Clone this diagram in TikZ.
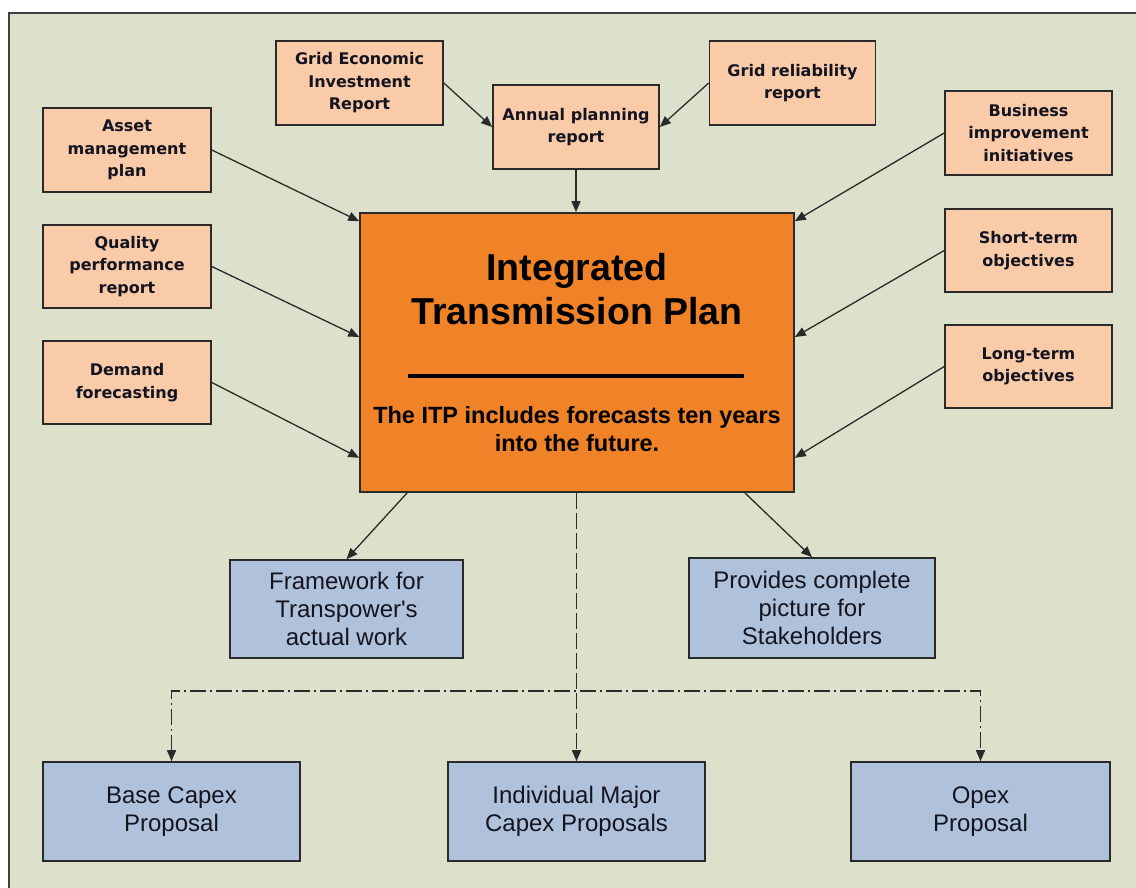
\documentclass[tikz,border=0pt]{standalone}
\usepackage{fontspec}
\usetikzlibrary{arrows.meta,calc}
\newfontfamily\boxfont{DejaVu Sans}
\newfontfamily\arialfont{Liberation Sans}
\definecolor{bgpanel}{HTML}{DDE1CC}
\definecolor{inputfill}{HTML}{F9CBA8}
\definecolor{planfill}{HTML}{F08227}
\definecolor{outfill}{HTML}{B0C2DB}
\definecolor{edgegray}{HTML}{2A2A2A}
\definecolor{inktext}{HTML}{141420}
\begin{document}
\begin{tikzpicture}[x=1pt,y=-1pt,
  basebox/.style={draw=edgegray, line width=1.6pt, rectangle, inner sep=0pt, align=center, text=inktext},
  inbox/.style={basebox, fill=inputfill, font=\boxfont\bfseries\fontsize{16}{22.5}\selectfont},
  outbox/.style={basebox, fill=outfill, font=\arialfont\fontsize{24}{28}\selectfont},
  planbox/.style={basebox, fill=planfill},
  plantitle/.style={anchor=base, inner sep=0pt, text=black, font=\arialfont\bfseries\fontsize{37.5}{44}\selectfont},
  plansub/.style={anchor=base, inner sep=0pt, text=black, font=\arialfont\bfseries\fontsize{23.5}{28}\selectfont},
  feed/.style={draw=edgegray, line width=1.3pt, -{Triangle[length=11pt,width=9pt]}},
  centredash/.style={draw=edgegray, line width=1.4pt, dash pattern=on 16pt off 4pt, -{Triangle[length=11pt,width=9pt]}},
  branchdash/.style={draw=edgegray, line width=1.4pt, dash pattern=on 16pt off 4pt on 2pt off 4pt, {Triangle[length=11pt,width=9pt]}-{Triangle[length=11pt,width=9pt]}}
]
\useasboundingbox (0,0) rectangle (1136,887);
\fill[white] (0,0) rectangle (1136,887);
% panel with its framing edge
\fill[bgpanel] (9,13) rectangle (1140,892);
\draw[line width=2pt, draw=black!75] (9,892) -- (9,13) -- (1140,13);

% inputs
\node[inbox, minimum width=167pt, minimum height=84pt] (gei) at (359.5,83) {Grid Economic\\Investment\\Report};
\node[inbox, minimum width=166pt, minimum height=84pt] (apr) at (576,127) {Annual planning\\report};
\node[inbox, minimum width=166pt, minimum height=84pt] (grr) at (792.5,83) {Grid reliability\\report};
\node[inbox, minimum width=168pt, minimum height=84pt] (amp) at (127,150) {Asset\\management\\plan};
\node[inbox, minimum width=168pt, minimum height=83pt] (qpr) at (127,266.5) {Quality\\performance\\report};
\node[inbox, minimum width=168pt, minimum height=83pt] (dfc) at (127,382.5) {Demand\\forecasting};
\node[inbox, minimum width=167pt, minimum height=84pt] (bii) at (1028.5,133) {Business\\improvement\\initiatives};
\node[inbox, minimum width=167pt, minimum height=83pt] (sto) at (1028.5,250.5) {Short-term\\objectives};
\node[inbox, minimum width=167pt, minimum height=83pt] (lto) at (1028.5,366.5) {Long-term\\objectives};

% central plan
\node[planbox, minimum width=434pt, minimum height=279pt] (itp) at (577,352.5) {};
\node[plantitle] (itpa) at (577,280) {Integrated};
\node[plantitle] (itpb) at (577,324) {Transmission Plan};
\node[inner sep=0pt] (itprule) at (576,376) {\color{black}\rule{336pt}{3.5pt}};
\node[plansub] (itpc) at (577,423) {The ITP includes forecasts ten years};
\node[plansub] (itpd) at (577,451) {into the future.};

% outcomes
\node[outbox, minimum width=233pt, minimum height=98pt] (fw) at (346.5,609) {Framework for\\Transpower's\\actual work};
\node[outbox, minimum width=246pt, minimum height=100pt] (pcp) at (812,608) {Provides complete\\picture for\\Stakeholders};
\node[outbox, minimum width=257pt, minimum height=99pt] (bcp) at (171.5,811.5) {Base Capex\\Proposal};
\node[outbox, minimum width=257pt, minimum height=99pt] (imc) at (576.5,811.5) {Individual Major\\Capex Proposals};
\node[outbox, minimum width=259pt, minimum height=99pt] (opx) at (980.5,811.5) {Opex\\Proposal};

% feeds into the annual report and the plan
\draw[feed] (gei.east) -- (apr.west);
\draw[feed] (grr.west) -- (apr.east);
\draw[feed] (apr.south) -- (itp.north -| apr.south);
\draw[feed] (amp.east) -- ($(itp.north west)+(0,9)$);
\draw[feed] (qpr.east) -- ($(itp.west)+(0,-15.5)$);
\draw[feed] (dfc.east) -- ($(itp.south west)+(0,-35)$);
\draw[feed] (bii.west) -- ($(itp.north east)+(0,9)$);
\draw[feed] (sto.west) -- ($(itp.east)+(0,-15.5)$);
\draw[feed] (lto.west) -- ($(itp.south east)+(0,-35)$);

% plan outcomes
\draw[feed] ($(itp.south west)+(48,0)$) -- (fw.north);
\draw[feed] ($(itp.south east)+(-50,0)$) -- (pcp.north);
\draw[centredash] (itp.south -| imc.north) -- (imc.north);
\coordinate (branch) at (576,691);
\draw[branchdash] (bcp.north) -- (bcp.north |- branch) -- (opx.north |- branch) -- (opx.north);
\end{tikzpicture}
\end{document}
